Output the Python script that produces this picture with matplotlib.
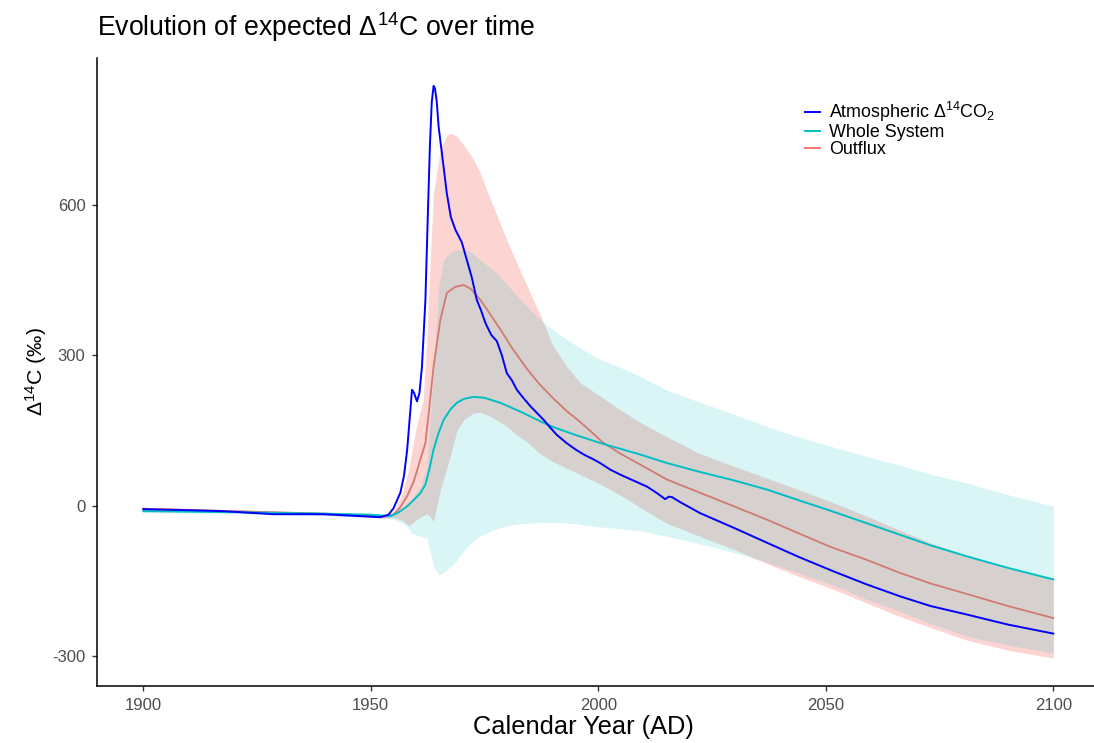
import matplotlib
matplotlib.use("Agg")
import matplotlib.pyplot as plt
from matplotlib.lines import Line2D
import numpy as np

plt.rcParams['font.family'] = ['Liberation Sans', 'DejaVu Sans']
plt.rcParams['mathtext.fontset'] = 'custom'
plt.rcParams['mathtext.rm'] = 'Liberation Sans'
plt.rcParams['mathtext.it'] = 'Liberation Sans:italic'
plt.rcParams['mathtext.bf'] = 'Liberation Sans:bold'
plt.rcParams['axes.unicode_minus'] = False

# ---------------- data ----------------
atm_years = [1900, 1910, 1917.6, 1928.6, 1939.6, 1948, 1952, 1953.9, 1955, 1956.5, 1957.3, 1958,
             1958.6, 1959.05, 1959.5, 1960.15, 1960.7, 1961.25, 1962, 1962.6, 1963.0, 1963.4,
             1963.8, 1964.1, 1964.5, 1964.9, 1965.8, 1966.7, 1967.6, 1968.6, 1970, 1971.1,
             1972.2, 1973.3, 1974.2, 1975.2, 1976.5, 1977.7, 1978.8, 1979.9, 1981, 1982.1,
             1983.5, 1985.1, 1986.5, 1988, 1989.5, 1990.9, 1993, 1995, 1996.8, 1999, 2000.4,
             2002.6, 2004.8, 2007, 2010.7, 2012.9, 2014.7, 2015.5, 2016.2, 2018, 2022.4, 2030,
             2037.1, 2044, 2051.7, 2059, 2066.4, 2073, 2081, 2090, 2100]
atm_vals = [-7, -9, -11, -17, -17, -21, -23, -18, -5, 26, 60, 112,
            180, 231, 225, 208, 225, 278, 410, 600, 720, 805,
            837, 832, 805, 756, 690, 623, 575, 550, 525, 490,
            455, 410, 390, 364, 340, 328, 300, 264, 250, 231,
            215, 198, 185, 171, 155, 141, 125, 112, 102, 92, 85,
            72, 62, 53, 38, 25, 13, 18, 17, 7, -15, -45,
            -74, -102, -131, -157, -181, -200, -217, -237, -255]

ws_years = [1900, 1920, 1940, 1950, 1954.3, 1956, 1958, 1959.5, 1960.9, 1962, 1962.8, 1963.8,
            1964.9, 1966, 1967.5, 1968.9, 1970.5, 1972.6, 1975, 1978.5, 1983, 1987.3, 1990,
            1995, 2000.4, 2005, 2009.2, 2015.1, 2022, 2030, 2037.1, 2044, 2051, 2059, 2066,
            2073, 2081, 2090, 2100]
ws_vals = [-11, -13, -16, -18, -21, -14, -1, 12, 25, 42, 70, 112,
           145, 171, 192, 205, 213, 217, 215, 205, 187, 168, 157,
           141, 125, 113, 102, 85, 68, 50, 32, 11, -10, -35, -57,
           -79, -101, -124, -147]

out_years = [1900, 1920, 1940, 1950, 1953, 1955, 1956.5, 1958, 1959.5, 1960.9, 1962, 1962.8,
             1963.8, 1965.3, 1966.7, 1968.5, 1970.4, 1972, 1974.1, 1976, 1978.5, 1981, 1984.3,
             1987, 1990.2, 1993, 1996, 1998.5, 2001, 2005, 2010, 2015.1, 2022, 2030, 2037.1,
             2044, 2051, 2059, 2066, 2073, 2081, 2090, 2100]
out_vals = [-6, -11, -16, -20, -22, -18, -3, 19, 50, 92, 125, 190,
            278, 371, 424, 436, 440, 432, 410, 385, 351, 315, 273,
            243, 213, 189, 167, 147, 126, 103, 78, 52, 27, -2, -28,
            -55, -82, -108, -133, -155, -176, -200, -224]

out_band_years = [1900, 1920, 1940, 1950, 1953, 1955, 1957, 1958.5, 1960, 1961.5, 1962.3, 1963,
                  1963.8, 1965.3, 1966.7, 1967.5, 1969, 1970.5, 1972.6, 1974, 1976.3, 1979.9,
                  1982, 1985, 1987, 1990, 1993, 1996, 2000, 2005, 2010, 2015, 2022, 2030, 2037,
                  2044, 2052, 2059, 2066, 2073, 2081, 2090, 2100]
out_lo = [-9, -13, -19, -23, -25, -24, -30, -40, -28, -20, -16, -22,
          -31, 32, 75, 100, 151, 172, 185, 186, 178, 158,
          142, 122, 105, 88, 75, 62, 45, 20, -8, -35, -60, -88, -115,
          -141, -168, -194, -220, -243, -268, -288, -304]
out_hi = [-4, -8, -14, -18, -19, -12, 25, 80, 158, 211, 330, 480,
          623, 712, 738, 743, 736, 718, 690, 665, 610, 530,
          485, 425, 385, 320, 278, 245, 221, 190, 162, 138, 105, 78, 55,
          32, 5, -21, -48, -74, -100, -125, -147]

ws_band_years = [1900, 1920, 1940, 1950, 1953, 1955, 1957, 1958, 1959, 1960.9, 1962.3, 1963,
                 1963.8, 1964.9, 1966, 1967.5, 1968.6, 1970, 1971.9, 1974, 1977.7, 1980, 1982.9,
                 1986.5, 1990, 1995, 2000, 2005, 2009.2, 2015, 2022, 2030, 2037, 2044, 2052,
                 2059, 2066, 2073, 2081, 2090, 2100]
ws_lo = [-14, -16, -20, -23, -25, -27, -35, -42, -55, -61, -64, -90,
         -121, -138, -133, -122, -112, -95, -75, -60, -46, -40, -36,
         -34, -33, -36, -42, -46, -50, -61, -75, -94, -113, -134, -160,
         -187, -210, -235, -260, -278, -294]
ws_hi = [-7, -9, -13, -16, -17, -14, -6, 0, 15, 38, 78, 170,
         271, 437, 490, 505, 510, 510, 507, 490, 464, 440, 411,
         377, 350, 320, 293, 275, 258, 231, 207, 182, 158, 137, 116,
         98, 81, 63, 45, 22, -1]

y_ticks = [-300, 0, 300, 600]
x_ticks = [1900, 1950, 2000, 2050, 2100]

# ---------------- plot ----------------
W, H = 1094, 743
fig = plt.figure(figsize=(W / 100, H / 100), dpi=100)
ax = fig.add_axes([97.3 / W, 1 - 686 / H, 1 - 97.3 / W, (686 - 58) / H])

col_atm = '#0000FF'
col_ws = '#00BFC4'
col_out = '#F8766D'
col_out_line = '#D27A70'

ax.fill_between(out_band_years, out_lo, out_hi, color=col_out, alpha=0.3, lw=0)
ax.fill_between(ws_band_years, ws_lo, ws_hi, color=col_ws, alpha=0.15, lw=0)
ax.plot(out_years, out_vals, color=col_out_line, lw=1.3)
ax.plot(ws_years, ws_vals, color=col_ws, lw=1.4)
ax.plot(atm_years, atm_vals, color=col_atm, lw=1.4)

ax.set_xlim(1900 - 46 / 4.55, 1900 + (W - 143.3) / 4.55)
ax.set_ylim(-359.5, 892.5)
ax.set_xticks(x_ticks)
ax.set_yticks(y_ticks)
ax.tick_params(axis='both', direction='out', length=3.5, width=1.0, color='#333333',
               labelcolor='#4D4D4D', labelsize=12, pad=5)
for s in ['top', 'right']:
    ax.spines[s].set_visible(False)
for s in ['left', 'bottom']:
    ax.spines[s].set_linewidth(1.1)
    ax.spines[s].set_color('black')

ax.set_xlabel('Calendar Year (AD)', fontsize=18.3)
ax.xaxis.set_label_coords((583 - 97.3) / (W - 97.3), (686 - 715) / 628)
ax.set_ylabel(r'Δ$^{14}$C (‰)', fontsize=15.3)
ax.yaxis.set_label_coords((49 - 97.3) / (W - 97.3), (686 - 372) / 628)
fig.text(97 / W, 1 - 27 / H, r'Evolution of expected Δ$^{14}$C over time', fontsize=19.2,
         ha='left', va='center')

handles = [Line2D([], [], color=col_atm, lw=1.4),
           Line2D([], [], color=col_ws, lw=1.4),
           Line2D([], [], color=col_out, lw=1.4)]
leg = ax.legend(handles,
                [r'Atmospheric Δ$^{14}$CO$_2$', 'Whole System', 'Outflux'],
                loc='upper left', bbox_to_anchor=(796 / W, 1 - 91 / H),
                bbox_transform=fig.transFigure, frameon=False, fontsize=12.9,
                handlelength=0.85, handletextpad=0.5, labelspacing=0.0, borderpad=0)

fig.savefig('out.png', dpi=100)
